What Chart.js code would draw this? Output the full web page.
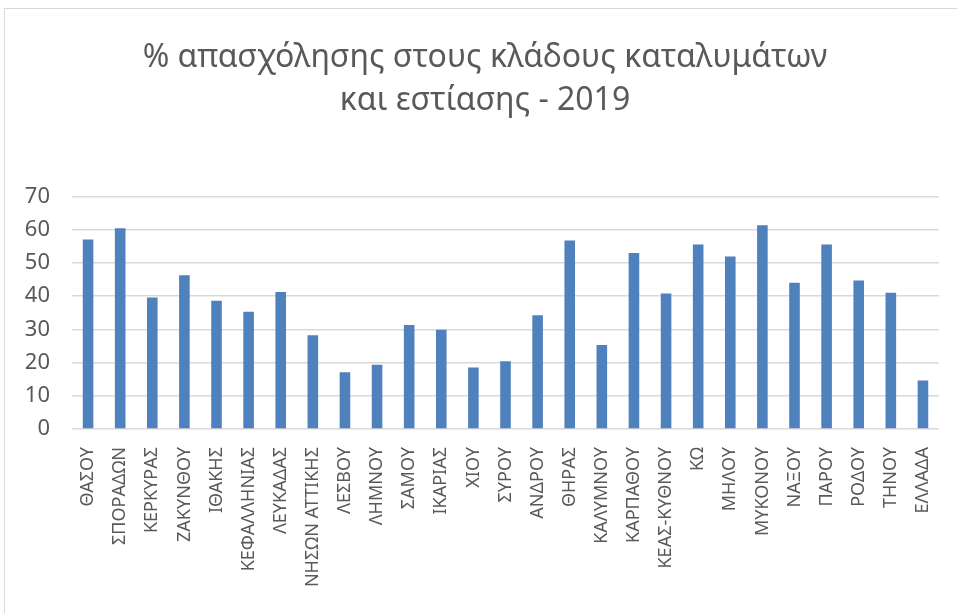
<!DOCTYPE html>
<html>
<head>
<meta charset="utf-8">
<script src="https://cdn.jsdelivr.net/npm/chart.js@4/dist/chart.umd.min.js"></script>
<style>
  html, body { margin: 0; padding: 0; background: #fff; overflow: hidden; }
  #frame {
    position: absolute; left: 4px; top: 8px; width: 980px; height: 640px;
    border: 1px solid #d9d9d9; box-sizing: border-box;
  }
  #wrap { position: absolute; left: 5px; top: 9px; width: 960px; height: 604px; }
  #info { display: none; }
</style>
</head>
<body>
<div id="frame"></div>
<div id="wrap"><canvas id="myChart"></canvas></div>
<div id="info"></div>
<script>
// chart data
const regions = ["ΘΑΣΟΥ", "ΣΠΟΡΑΔΩΝ", "ΚΕΡΚΥΡΑΣ", "ΖΑΚΥΝΘΟΥ", "ΙΘΑΚΗΣ", "ΚΕΦΑΛΛΗΝΙΑΣ", "ΛΕΥΚΑΔΑΣ",
  "ΝΗΣΩΝ ΑΤΤΙΚΗΣ", "ΛΕΣΒΟΥ", "ΛΗΜΝΟΥ", "ΣΑΜΟΥ", "ΙΚΑΡΙΑΣ", "ΧΙΟΥ", "ΣΥΡΟΥ", "ΑΝΔΡΟΥ", "ΘΗΡΑΣ",
  "ΚΑΛΥΜΝΟΥ", "ΚΑΡΠΑΘΟΥ", "ΚΕΑΣ-ΚΥΘΝΟΥ", "ΚΩ", "ΜΗΛΟΥ", "ΜΥΚΟΝΟΥ", "ΝΑΞΟΥ", "ΠΑΡΟΥ", "ΡΟΔΟΥ",
  "ΤΗΝΟΥ", "ΕΛΛΑΔΑ"];

const employment = [57.0, 60.4, 39.6, 46.3, 38.6, 35.3, 41.2, 28.2, 17.1, 19.3, 31.3, 29.9, 18.5, 20.4,
  34.2, 56.7, 25.3, 53.0, 40.8, 55.5, 51.9, 61.3, 44.0, 55.5, 44.7, 41.0, 14.6];

const titleLines = ["% απασχόλησης στους κλάδους καταλυμάτων", "και εστίασης - 2019"];
const yMin = 0, yMax = 70, yStep = 10;

const grey = '#595959';
const fontFamily = '"Noto Sans", "Open Sans", sans-serif';

Chart.defaults.font.family = fontFamily;
Chart.defaults.color = grey;

const config = {
  type: 'bar',
  data: {
    labels: regions,
    datasets: [{
      label: '%',
      data: employment,
      backgroundColor: '#4f81bd',
      borderWidth: 0,
      barPercentage: 0.33,
      categoryPercentage: 1.0
    }]
  },
  options: {
    responsive: true,
    maintainAspectRatio: false,
    animation: false,
    layout: { padding: 0 },
    plugins: {
      legend: { display: false },
      tooltip: { enabled: false },
      title: {
        display: true,
        text: titleLines,
        font: { size: 32, weight: 'normal', lineHeight: 1.35 },
        padding: { top: 27, bottom: 74 }
      }
    },
    scales: {
      x: {
        grid: { display: false },
        border: { display: false },
        ticks: {
          font: { size: 18 },
          minRotation: 90,
          maxRotation: 90,
          autoSkip: false,
          padding: 10
        },
        afterFit: (scale) => { scale.height = 184 }
      },
      y: {
        position: 'left',
        min: yMin,
        max: yMax,
        ticks: {
          stepSize: yStep,
          font: { size: 22 },
          padding: 22
        },
        grid: { color: '#d9d9d9', lineWidth: 1.6, drawTicks: false },
        border: { display: false },
        afterFit: (scale) => { scale.width = 67 }
      },
      // empty right axis, only to keep the plot narrower than the title box
      yRight: {
        position: 'right',
        min: yMin,
        max: yMax,
        ticks: { display: false },
        grid: { display: false },
        border: { display: false },
        afterFit: (scale) => { scale.width = 26 }
      }
    }
  }
};

const myChart = new Chart(document.getElementById('myChart'), config);
document.getElementById('info').textContent = JSON.stringify(myChart.chartArea) + ' ' +
  JSON.stringify(myChart.scales.y._resolveTickFontOptions(0));
</script>
</body>
</html>
